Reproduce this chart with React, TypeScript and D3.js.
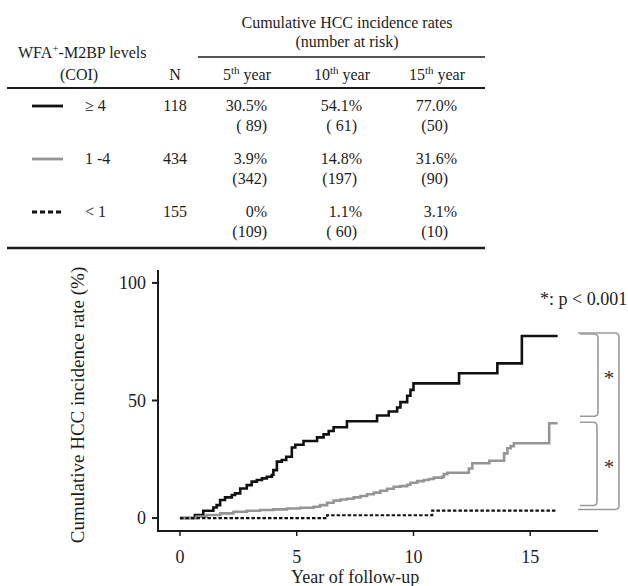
import React from 'react';
import * as d3 from 'd3';

// Kaplan-Meier style step curves (time in years, cumulative %)
const highT = [0, 0.64, 1.0, 1.43, 1.57, 1.72, 1.93, 2.22, 2.36, 2.58, 2.86, 3.07, 3.29, 3.51, 3.72, 3.93, 4.0, 4.15, 4.36, 4.55, 4.79, 4.94, 5.29, 5.87, 6.15, 6.37, 6.58, 7.15, 8.44, 8.94, 9.3, 9.44, 9.73, 9.87, 10.0, 11.95, 13.59, 14.64];
const highV = [0, 1.3, 3.1, 4.5, 5.5, 7.7, 8.8, 9.8, 10.5, 12.6, 14.0, 15.5, 16.2, 16.9, 17.6, 18.3, 20.4, 24.0, 24.7, 26.1, 30.0, 31.2, 32.8, 34.3, 35.6, 37.0, 38.6, 41.2, 43.6, 45.3, 47.0, 49.3, 52.0, 54.5, 57.3, 61.6, 65.8, 77.4];
const midT = [0, 0.72, 1.14, 1.72, 2.29, 2.86, 3.43, 4.0, 4.58, 5.15, 5.72, 6.0, 6.3, 6.58, 6.87, 7.15, 7.44, 7.73, 8.01, 8.3, 8.58, 8.87, 9.15, 9.44, 9.73, 9.87, 10.16, 10.44, 10.66, 10.87, 11.23, 11.3, 11.45, 12.37, 12.52, 13.25, 13.88, 14.02, 14.16, 14.3, 15.81];
const midV = [0, 0.6, 1.3, 2.0, 2.7, 3.1, 3.4, 3.7, 4.1, 4.4, 4.8, 5.5, 6.5, 7.4, 7.9, 8.2, 8.8, 9.4, 10.1, 10.8, 11.6, 12.5, 13.3, 13.6, 14.2, 15.0, 15.7, 16.2, 16.6, 17.2, 17.6, 18.7, 19.3, 21.1, 23.3, 24.4, 27.5, 29.7, 30.6, 31.8, 40.3];
const lowT = [0, 6.3, 10.8];
const lowV = [0, 1.2, 3.2];
const followUpEnd = [16.17, 16.17, 16.1];

const xTicks = [0, 5, 10, 15];
const yTicks = [0, 50, 100];

// table
const groupLabels = ['\u2265 4', '1 -4', '< 1'];
const groupN = ['118', '434', '155'];
const yearHeads = ['5', '10', '15'];
const rateLabels = [
  ['30.5%', '54.1%', '77.0%'],
  ['3.9%', '14.8%', '31.6%'],
  ['0%', '1.1%', '3.1%'],
];
const riskLabels = [
  ['( 89)', '( 61)', '(50)'],
  ['(342)', '(197)', '(90)'],
  ['(109)', '( 60)', '(10)'],
];

const styles = [
  { stroke: '#111', width: 2.6, dash: null, legendDash: null },
  { stroke: '#959595', width: 2.6, dash: null, legendDash: null },
  { stroke: '#111', width: 2.2, dash: '3.5,2', legendDash: '5,3' },
];

const font = '"Liberation Serif", "Times New Roman", serif';
const ink = '#1c1c1c';

function App() {
  const x = d3.scaleLinear().domain([-0.94, 17.9]).range([158, 598]);
  const y = d3.scaleLinear().domain([-5.5, 105.5]).range([531, 270]);
  const line = d3.line<[number, number]>()
    .x(d => x(d[0])).y(d => y(d[1])).curve(d3.curveStepAfter);

  const series = [[highT, highV], [midT, midV], [lowT, lowV]].map(([t, v], i) => {
    const pts: [number, number][] = t.map((tt, j) => [tt, v[j]]);
    pts.push([followUpEnd[i], v[v.length - 1]]);
    return pts;
  });
  const lastVal = series.map(s => s[s.length - 1][1]);

  const rowBase = [111, 164, 217];
  const rateRight = [267, 362, 457];
  const riskRight = [267, 357, 448];
  const headCenter = [247, 342, 437];

  // bracket: ] shape with rounded corners
  const bracket = (x0: number, x1: number, yTop: number, yBot: number) => {
    const r = 4;
    return `M${x0},${yTop} L${x1 - r},${yTop} Q${x1},${yTop} ${x1},${yTop + r} L${x1},${yBot - r} Q${x1},${yBot} ${x1 - r},${yBot} L${x0},${yBot}`;
  };
  const b1Top = y(lastVal[0]) - 2, b1Bot = y(lastVal[1]) - 7;
  const b2Top = y(lastVal[1]) - 1, b2Bot = y(lastVal[2]) - 5;

  return (
    <div style={{ position: 'absolute', left: 0, top: 0 }}>
      <svg width={628} height={586} style={{ display: 'block', background: '#fff' }} fontFamily={font}>
        {/* table header */}
        <g fill={ink} fontSize={16}>
          <text x={347} y={28} textAnchor="middle">Cumulative HCC incidence rates</text>
          <text x={347} y={47} textAnchor="middle">(number at risk)</text>
          <text x={18} y={58}>WFA<tspan fontSize={11} dy={-6}>+</tspan><tspan dy={6}>-M2BP levels</tspan></text>
          <text x={79} y={80} textAnchor="middle">(COI)</text>
          <text x={175} y={80} textAnchor="middle">N</text>
          {yearHeads.map((h, i) => (
            <text key={h} x={headCenter[i]} y={80} textAnchor="middle">
              {h}<tspan fontSize={11} dy={-6}>th</tspan><tspan dy={6}> year</tspan>
            </text>
          ))}
        </g>
        <line x1={198} x2={485} y1={57} y2={57} stroke={ink} strokeWidth={1.5} />
        <line x1={7} x2={485} y1={88} y2={88} stroke={ink} strokeWidth={2} />
        <line x1={7} x2={485} y1={248} y2={248} stroke={ink} strokeWidth={2.5} />
        {groupLabels.map((g, i) => (
          <g key={g} fill={ink} fontSize={16}>
            <line x1={32} x2={63} y1={rowBase[i] - 5} y2={rowBase[i] - 5}
              stroke={styles[i].stroke} strokeWidth={2.8}
              strokeDasharray={styles[i].legendDash ?? undefined} />
            <text x={85} y={rowBase[i]}>{g}</text>
            <text x={175} y={rowBase[i]} textAnchor="middle">{groupN[i]}</text>
            {rateLabels[i].map((r, j) => (
              <text key={'r' + j} x={rateRight[j]} y={rowBase[i]} textAnchor="end">{r}</text>
            ))}
            {riskLabels[i].map((r, j) => (
              <text key={'k' + j} x={riskRight[j]} y={rowBase[i] + 20} textAnchor="end" style={{ whiteSpace: 'pre' }}>{r}</text>
            ))}
          </g>
        ))}

        {/* axes */}
        <g stroke={ink} strokeWidth={2} fill="none">
          <line x1={158} x2={158} y1={270} y2={531} />
          <line x1={157} x2={598} y1={531} y2={531} />
          {yTicks.map(t => <line key={t} x1={152} x2={158} y1={y(t)} y2={y(t)} />)}
          {xTicks.map(t => <line key={t} x1={x(t)} x2={x(t)} y1={531} y2={536} strokeWidth={1.5} />)}
        </g>
        <g fill={ink} fontSize={18}>
          {yTicks.map(t => <text key={t} x={146} y={y(t)} dy="0.35em" textAnchor="end">{t}</text>)}
          {xTicks.map(t => <text key={t} x={x(t)} y={563} textAnchor="middle">{t}</text>)}
          <text x={x(7.5)} y={583} textAnchor="middle">Year of follow-up</text>
          <text transform="translate(84,405) rotate(-90)" textAnchor="middle" fontSize={19}>Cumulative HCC incidence rate (%)</text>
          <text x={540} y={305}>*: p &lt; 0.001</text>
        </g>

        {/* curves */}
        {series.map((s, i) => (
          <path key={i} d={line(s) ?? ''} fill="none" stroke={styles[i].stroke}
            strokeWidth={styles[i].width} strokeDasharray={styles[i].dash ?? undefined} />
        ))}

        {/* significance brackets */}
        <g fill="none" stroke="#9a9a9a" strokeWidth={1.6}>
          <path d={bracket(580, 598, b1Top, b1Bot)} />
          <path d={bracket(580, 597, b2Top, b2Bot)} />
          <path d={bracket(578, 619, b1Top - 1, b2Bot + 4)} />
        </g>
        <g fill="#333" fontSize={21} textAnchor="middle">
          <text x={609} y={(b1Top + b1Bot) / 2 + 10}>*</text>
          <text x={609} y={(b2Top + b2Bot) / 2 + 10}>*</text>
        </g>
      </svg>
    </div>
  );
}

export default App;
